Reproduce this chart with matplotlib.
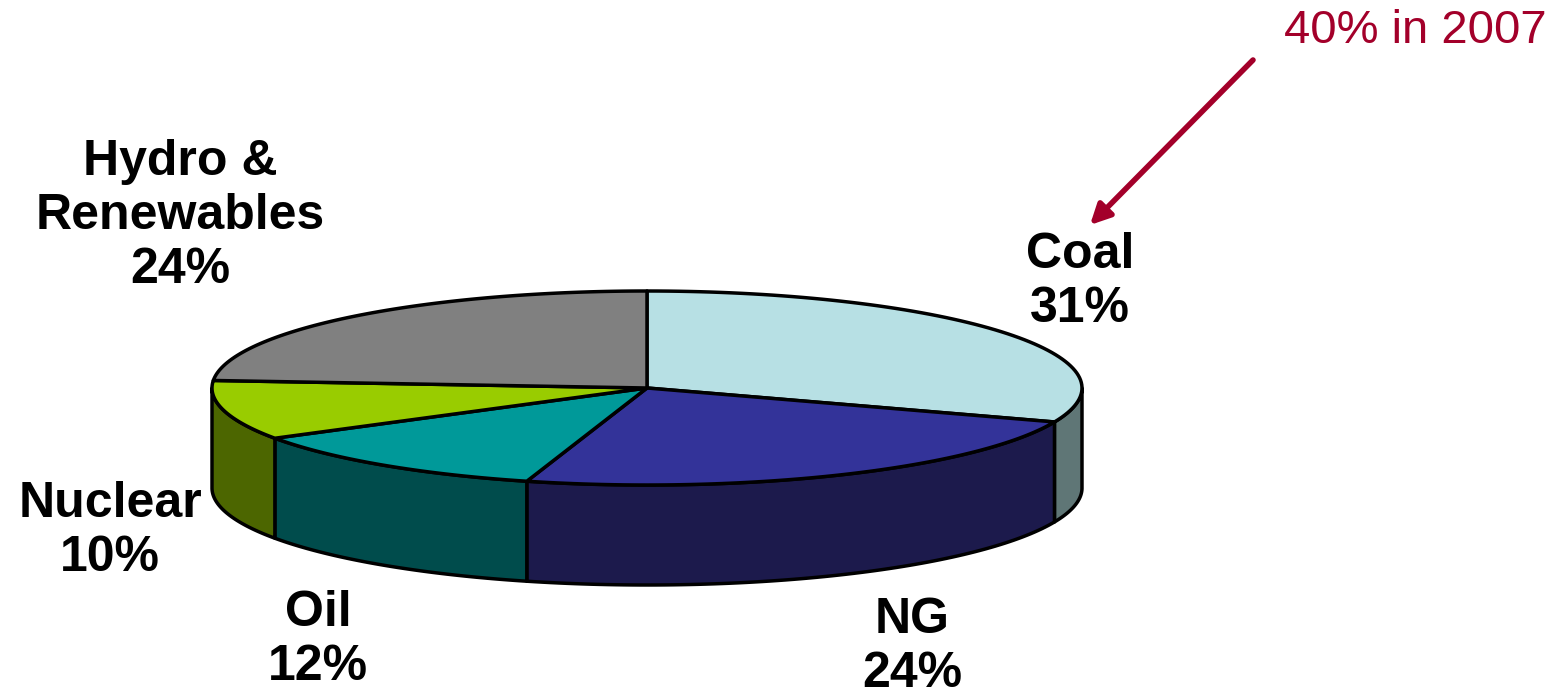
import matplotlib
matplotlib.use('Agg')
import matplotlib.pyplot as plt
import numpy as np
from matplotlib.patches import Polygon

plt.rcParams['font.family'] = ['Liberation Sans', 'DejaVu Sans']

# data
labels = ['Coal', 'NG', 'Oil', 'Nuclear', 'Hydro &\nRenewables']
values = [31, 24, 12, 10, 24]
top_colors = ['#B7E0E4', '#333399', '#009999', '#99CC00', '#808080']
side_colors = ['#5F7676', '#1C1A4C', '#004C4C', '#4C6600', '#444444']
label_pos = [(1080, 282), (912, 647), (318, 640), (110, 531), (180, 216)]

# pie geometry (pixel space)
cx, cy = 647, 388
a, b = 435, 97
depth = 100


def pt(t, dz=0.0):
    r = np.radians(t)
    return cx + a * np.sin(r), cy - b * np.cos(r) + dz


def arc(t0, t1, dz=0.0, n=80):
    ts = np.linspace(t0, t1, n)
    return [pt(t, dz) for t in ts]


fig = plt.figure(figsize=(15.66, 6.94), dpi=100)
ax = fig.add_axes([0, 0, 1, 1])
ax.set_xlim(0, 1566)
ax.set_ylim(694, 0)
ax.axis('off')

total = sum(values)
bounds = np.concatenate([[0], np.cumsum(values)]) / total * 360

# side walls (front half only, 90..270 deg)
for i in range(len(values)):
    t0, t1 = max(bounds[i], 90), min(bounds[i + 1], 270)
    if t1 <= t0:
        continue
    poly = arc(t0, t1) + arc(t1, t0, depth)
    ax.add_patch(Polygon(poly, closed=True, facecolor=side_colors[i],
                         edgecolor='black', linewidth=2.5, joinstyle='round'))

# top wedges
for i in range(len(values)):
    poly = [(cx, cy)] + arc(bounds[i], bounds[i + 1])
    ax.add_patch(Polygon(poly, closed=True, facecolor=top_colors[i],
                         edgecolor='black', linewidth=2.5, joinstyle='round'))

# labels
for lab, v, (x, y) in zip(labels, values, label_pos):
    ax.text(x, y, f'{lab}\n{v}%', ha='center', va='center', fontsize=36,
            fontweight='bold', linespacing=1.22, color='black')

# annotation
red = '#A3002A'
ax.text(1415, 31, '40% in 2007', ha='center', va='center', fontsize=34, color=red)
ax.annotate('', xy=(1090, 225), xytext=(1253, 60),
            arrowprops=dict(arrowstyle='-|>,head_length=1.2,head_width=0.6',
                            color=red, lw=4, shrinkA=0, shrinkB=0))

fig.savefig('out.png', dpi=100)
